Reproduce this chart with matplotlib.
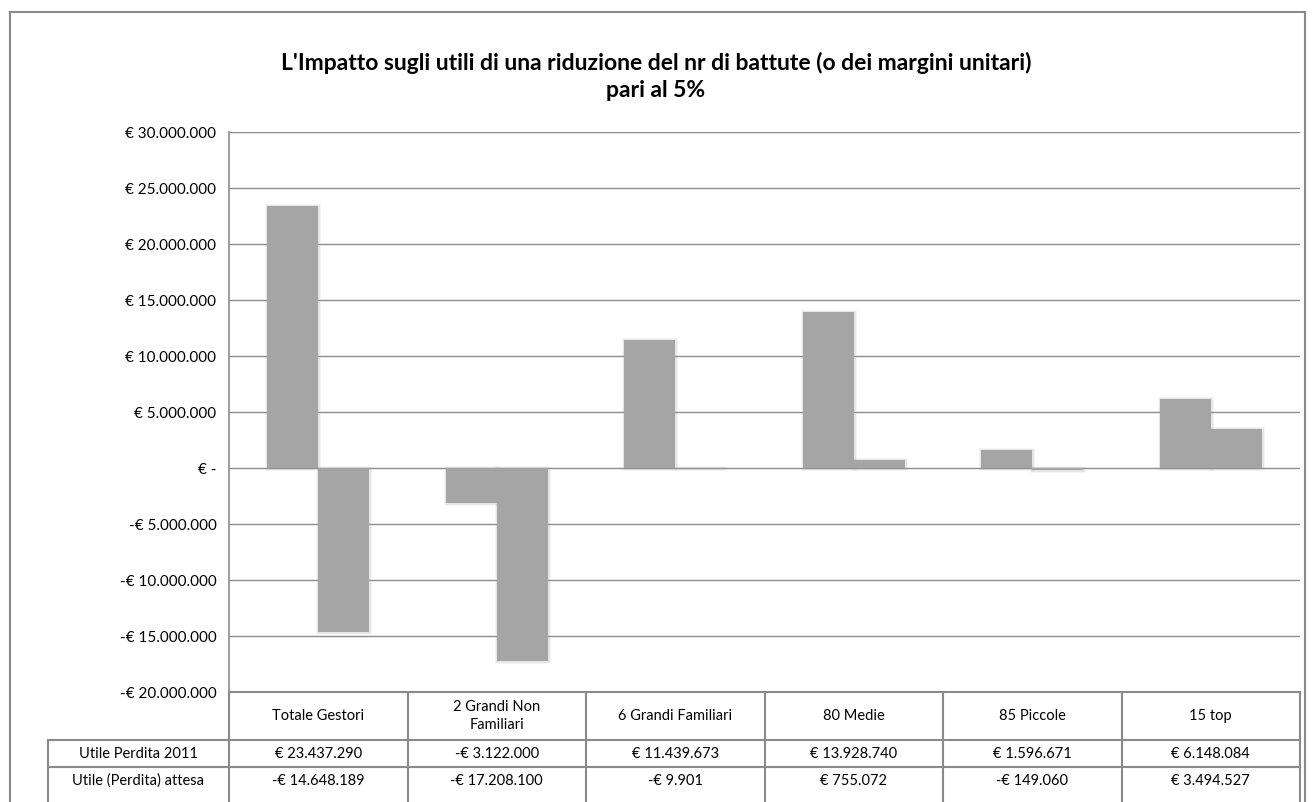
import matplotlib
matplotlib.use("Agg")
import matplotlib.pyplot as plt
import numpy as np
from matplotlib.lines import Line2D

plt.rcParams['font.family'] = ['Lato', 'DejaVu Sans']

title = "L'Impatto sugli utili di una riduzione del nr di battute (o dei margini unitari)\npari al 5%"
categories = ["Totale Gestori", "2 Grandi Non\nFamiliari", "6 Grandi Familiari", "80 Medie", "85 Piccole", "15 top"]
series_names = ["Utile Perdita 2011", "Utile (Perdita) attesa"]
utile_2011 = [23437290, -3122000, 11439673, 13928740, 1596671, 6148084]
utile_attesa = [-14648189, -17208100, -9901, 755072, -149060, 3494527]
yticks = [30000000, 25000000, 20000000, 15000000, 10000000, 5000000, 0,
          -5000000, -10000000, -15000000, -20000000]


def eur(v):
    if v == 0:
        return "€ -"
    s = f"{abs(int(v)):,}".replace(",", ".")
    return ("-€ " if v < 0 else "€ ") + s


W, H = 1312, 802
fig = plt.figure(figsize=(W / 100, H / 100), dpi=100)

# plot area in pixels
L, R, T, B = 229, 1300, 132, 692
ax = fig.add_axes([L / W, 1 - B / H, (R - L) / W, (B - T) / H])

grid_c = "#8c8c8c"
bar_c = "#a5a5a5"
n = len(categories)
x = np.arange(n)
bw = 0.2857

for vals, off in [(utile_2011, -bw / 2), (utile_attesa, bw / 2)]:
    for xi, v in zip(x, vals):
        # soft edge (blurred look)
        for k, a in [(3.5, 0.10), (2.0, 0.20)]:
            ax.bar(xi + off, v, width=bw, color='none', edgecolor=bar_c,
                   linewidth=k, alpha=a, zorder=2)
        ax.bar(xi + off, v, width=bw, color=bar_c, edgecolor='none', zorder=3)

ax.set_xlim(-0.5, n - 0.5)
ax.set_ylim(-20000000, 30000000)
ax.set_yticks(yticks)
ax.set_yticklabels([eur(v) for v in yticks], fontsize=11)
ax.tick_params(axis='y', length=0, pad=9)
ax.set_xticks([])
for y in yticks:
    ax.axhline(y, color=grid_c, linewidth=1.0, zorder=1)
for side in ['top', 'right', 'bottom']:
    ax.spines[side].set_visible(False)
ax.spines['left'].set_color(grid_c)
ax.spines['left'].set_linewidth(1.2)

# Title
fig.text(0.5, 1 - 76 / H, title, ha='center', va='center', fontsize=16.5,
         fontweight='bold', linespacing=1.35)

# Outer chart frame
fc = "#8a8a8a"
fig.add_artist(Line2D([10 / W, 10 / W], [1 - 12 / H, 0], color=fc, lw=1.5, transform=fig.transFigure))
fig.add_artist(Line2D([10 / W, 1305 / W], [1 - 12 / H, 1 - 12 / H], color=fc, lw=1.5, transform=fig.transFigure))
fig.add_artist(Line2D([1305 / W, 1305 / W], [1 - 12 / H, 0], color=fc, lw=1.5, transform=fig.transFigure))


def fx(px):
    return px / W


def fy(py):
    return 1 - py / H


fig.canvas.draw()
col_edges_px = [fig.transFigure.inverted().transform(ax.transData.transform((i - 0.5, 0)))[0] * W
                for i in range(n + 1)]

tc = "#8a8a8a"
lab_left = 48
fig.add_artist(Line2D([fx(L), fx(R)], [fy(692), fy(692)], color=tc, lw=1.5, transform=fig.transFigure))
for yy in [740, 767]:
    fig.add_artist(Line2D([fx(lab_left), fx(R)], [fy(yy), fy(yy)], color=tc, lw=1.5, transform=fig.transFigure))
for cx in col_edges_px:
    fig.add_artist(Line2D([fx(cx), fx(cx)], [fy(692), fy(802)], color=tc, lw=1.5, transform=fig.transFigure))
fig.add_artist(Line2D([fx(lab_left), fx(lab_left)], [fy(740), fy(802)], color=tc, lw=1.5, transform=fig.transFigure))

for i, c in enumerate(categories):
    cx = (col_edges_px[i] + col_edges_px[i + 1]) / 2
    fig.text(fx(cx), fy(716), c, ha='center', va='center', fontsize=10.5, linespacing=1.3)
for r, (name, vals) in enumerate(zip(series_names, [utile_2011, utile_attesa])):
    yc = 754 if r == 0 else 781
    fig.text(fx((lab_left + L) / 2), fy(yc), name, ha='center', va='center', fontsize=10.5)
    for i, v in enumerate(vals):
        cx = (col_edges_px[i] + col_edges_px[i + 1]) / 2
        fig.text(fx(cx), fy(yc), eur(v), ha='center', va='center', fontsize=10.5)

fig.savefig("out.png", dpi=100)
